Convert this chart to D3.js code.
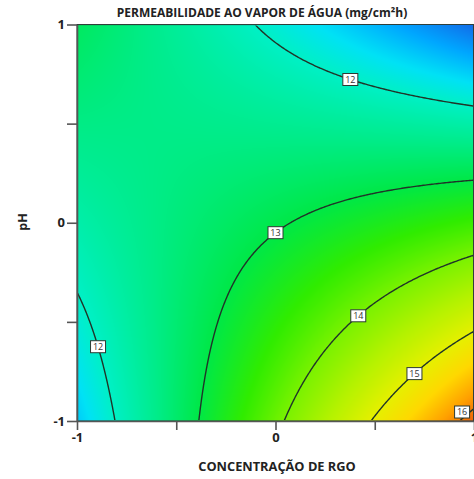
<!DOCTYPE html>
<html>
<head>
<meta charset="utf-8">
<script src="https://cdn.jsdelivr.net/npm/d3@7"></script>
<style>
  html, body { margin: 0; padding: 0; background: #fff; }
  svg { display: block; }
  text { font-family: "Open Sans", "Noto Sans", sans-serif; }
</style>
</head>
<body>
<svg id="chart" width="474" height="479"></svg>
<script>
// Fitted response surface (coded factors):
// PVA = b0 + b1*RGO + b2*pH + b12*RGO*pH + b11*RGO^2 + b22*pH^2
const terms = ["intercept", "RGO", "pH", "RGO:pH", "RGO^2", "pH^2"];
const coefficients = [12.95, 0.67, -1.00, -1.64, -0.05, -0.05];

// Contour levels and where each level's label sits (RGO coordinate)
const levels = [12, 13, 14, 15, 16];
const labelLevels = [12, 12, 13, 14, 15, 16];
const labelRGO = [0.377, -0.894, 0.0, 0.417, 0.70, 0.94];

// Axis ticks
const xTicks = [-1, -0.5, 0, 0.5, 1];
const xTickLabels = ["-1", "", "0", "", "1"];
const yTicks = [-1, -0.5, 0, 0.5, 1];
const yTickLabels = ["-1", "", "0", "", "1"];

const title = "PERMEABILIDADE AO VAPOR DE ÁGUA (mg/cm²h)";
const xTitle = "CONCENTRAÇÃO DE RGO";
const yTitle = "pH";

const plot = { left: 77, right: 474, top: 24.5, bottom: 421 };

const svg = d3.select("#chart");
const x = d3.scaleLinear().domain([-1, 1]).range([plot.left, plot.right]);
const y = d3.scaleLinear().domain([-1, 1]).range([plot.bottom, plot.top]);

function model(r, p) {
  const [b0, b1, b2, b12, b11, b22] = coefficients;
  return b0 + b1 * r + b2 * p + b12 * r * p + b11 * r * r + b22 * p * p;
}

// pH on a contour line at a given RGO (solve the quadratic in pH)
function pHOnLevel(level, r) {
  const [b0, b1, b2, b12, b11, b22] = coefficients;
  const a = b22, b = b2 + b12 * r, c = b0 + b1 * r + b11 * r * r - level;
  if (Math.abs(a) < 1e-9) return -c / b;
  const disc = Math.sqrt(b * b - 4 * a * c);
  const roots = [(-b + disc) / (2 * a), (-b - disc) / (2 * a)];
  return roots.reduce((best, v) => Math.abs(v) < Math.abs(best) ? v : best);
}

// spectral colour ramp for the surface
const color = d3.scaleLinear()
  .domain([10.85, 11.3, 11.7, 12.0, 12.5, 13.0, 13.5, 14.0, 14.5, 15.0, 15.4, 15.8, 16.2])
  .range(["#1466e6", "#00a6ff", "#00e2f5", "#00f0c6", "#00ec8a", "#00e846", "#30ec00",
          "#7af200", "#b4f200", "#e6f000", "#ffd800", "#ffa000", "#ec5a0a"])
  .interpolate(d3.interpolateRgb)
  .clamp(true);

// raster fill of the surface
const W = Math.round(plot.right - plot.left), H = Math.round(plot.bottom - plot.top);
const canvas = document.createElement("canvas");
canvas.width = W; canvas.height = H;
const ctx = canvas.getContext("2d");
const img = ctx.createImageData(W, H);
for (let j = 0; j < H; j++) {
  const p = y.invert(plot.top + (j + 0.5) * (plot.bottom - plot.top) / H);
  for (let i = 0; i < W; i++) {
    const r = x.invert(plot.left + (i + 0.5) * (plot.right - plot.left) / W);
    const c = d3.rgb(color(model(r, p)));
    const k = 4 * (j * W + i);
    img.data[k] = c.r; img.data[k + 1] = c.g; img.data[k + 2] = c.b; img.data[k + 3] = 255;
  }
}
ctx.putImageData(img, 0, 0);

svg.append("image")
  .attr("x", plot.left).attr("y", plot.top)
  .attr("width", plot.right - plot.left).attr("height", plot.bottom - plot.top)
  .attr("preserveAspectRatio", "none")
  .attr("href", canvas.toDataURL());

// contour lines
const n = 240;
const grid = new Array(n * n);
for (let j = 0; j < n; j++) {
  const p = 1 - 2 * (j + 0.5) / n;
  for (let i = 0; i < n; i++) {
    const r = -1 + 2 * (i + 0.5) / n;
    grid[j * n + i] = model(r, p);
  }
}
const contours = d3.contours().size([n, n]).thresholds(levels)(grid);
const proj = d3.geoTransform({
  point(gx, gy) { this.stream.point(x(-1 + 2 * gx / n), y(1 - 2 * gy / n)); }
});
const path = d3.geoPath(proj);

svg.append("clipPath").attr("id", "inner")
  .append("rect")
  .attr("x", plot.left + 1).attr("y", plot.top + 1)
  .attr("width", plot.right - plot.left - 2).attr("height", plot.bottom - plot.top - 2);

svg.append("g").attr("clip-path", "url(#inner)")
  .selectAll("path").data(contours).join("path")
  .attr("d", path)
  .attr("fill", "none")
  .attr("stroke", "#203428")
  .attr("stroke-width", 1.4);

// frame
svg.append("rect")
  .attr("x", plot.left).attr("y", plot.top)
  .attr("width", plot.right - plot.left - 0.5).attr("height", plot.bottom - plot.top)
  .attr("fill", "none").attr("stroke", "#2f3f3a").attr("stroke-width", 1);

// contour labels
const labels = svg.append("g").selectAll("g")
  .data(labelLevels.map((lv, i) => ({ lv, r: labelRGO[i], p: pHOnLevel(lv, labelRGO[i]) })))
  .join("g")
  .attr("transform", d => `translate(${x(d.r)},${Math.min(y(d.p), plot.bottom - 9)})`);
labels.append("rect")
  .attr("x", -7.5).attr("y", -6).attr("width", 15).attr("height", 12)
  .attr("fill", "#fff").attr("stroke", "#2d3a33").attr("stroke-width", 1);
labels.append("text")
  .attr("text-anchor", "middle").attr("dy", "0.36em")
  .attr("font-size", 9).attr("fill", "#333")
  .text(d => d.lv);

// axes
const axisColor = "#555";
const xAxis = svg.append("g").attr("transform", `translate(0,${plot.bottom})`)
  .call(d3.axisBottom(x).tickValues(xTicks).tickSize(9).tickSizeOuter(0)
    .tickFormat((d, i) => xTickLabels[i]));
const yAxis = svg.append("g").attr("transform", `translate(${plot.left},0)`)
  .call(d3.axisLeft(y).tickValues(yTicks).tickSize(10).tickSizeOuter(0)
    .tickFormat((d, i) => yTickLabels[i]));
[xAxis, yAxis].forEach(g => {
  g.select(".domain").attr("stroke", axisColor).attr("stroke-width", 1.6);
  g.selectAll(".tick line").attr("stroke", axisColor).attr("stroke-width", 1.6);
  g.selectAll(".tick text").attr("fill", "#222").attr("font-size", 13)
    .attr("font-weight", "bold").attr("font-family", "'Open Sans', sans-serif");
});
xAxis.selectAll(".tick text").attr("dy", "0.72em").attr("y", 12);
yAxis.selectAll(".tick text").attr("x", -12);

// titles
svg.append("text")
  .attr("x", 262).attr("y", 17)
  .attr("text-anchor", "middle").attr("font-size", 12).attr("font-weight", "bold")
  .attr("fill", "#222")
  .text(title);
svg.append("text")
  .attr("x", 277).attr("y", 471)
  .attr("text-anchor", "middle").attr("font-size", 12.8).attr("font-weight", "bold")
  .attr("fill", "#222")
  .text(xTitle);
svg.append("text")
  .attr("transform", "translate(27,222) rotate(-90)")
  .attr("text-anchor", "middle").attr("font-size", 12.5).attr("font-weight", "bold")
  .attr("fill", "#222")
  .text(yTitle);
</script>
</body>
</html>
